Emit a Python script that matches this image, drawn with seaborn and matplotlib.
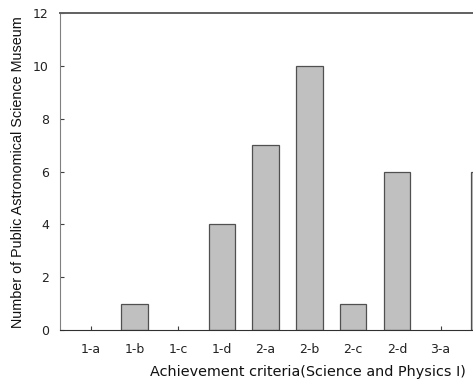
import pandas as pd
import seaborn as sns
import matplotlib.pyplot as plt

# === Data ===
criteria = ['1-a', '1-b', '1-c', '1-d', '2-a', '2-b', '2-c', '2-d', '3-a', '3-b']
museums = [0, 1, 0, 4, 7, 10, 1, 6, 0, 6]
y_ticks = [0, 2, 4, 6, 8, 10, 12]

df = pd.DataFrame({'criteria': criteria, 'museums': museums})

sns.set_style('white')
plt.rcParams['font.family'] = ['DejaVu Sans']

fig = plt.figure(figsize=(4.73, 3.84), dpi=100)
# axes run past the right edge, like the cropped original
ax = fig.add_axes([0.1268, 0.1406, 0.962, 0.8255])

sns.barplot(data=df, x='criteria', y='museums', color='#c0c0c0',
            edgecolor='#505050', linewidth=0.9, width=0.61, saturation=1, ax=ax)

# no outline for empty bars
for p in ax.patches:
    if p.get_height() == 0:
        p.set_linewidth(0)

ax.set_xlim(-0.70, 9.70)
ax.set_ylim(0, 12)
ax.set_yticks(y_ticks)
# last category sits past the crop, so its label is not shown
ax.set_xticks(range(len(criteria) - 1))
ax.set_xticklabels(criteria[:-1])
ax.tick_params(axis='both', direction='in', length=3, width=0.8,
               color='#404040', labelsize=9, labelcolor='#222222',
               bottom=True, left=True)
ax.tick_params(axis='x', pad=9)
ax.tick_params(axis='y', pad=8)

for side in ['top', 'left', 'bottom', 'right']:
    ax.spines[side].set_visible(True)
ax.spines['top'].set_color('#606060')
ax.spines['top'].set_linewidth(1.4)
ax.spines['left'].set_color('#808080')
ax.spines['bottom'].set_color('#303030')
ax.spines['right'].set_color('#606060')

ax.set_xlabel('')
ax.set_ylabel('')
fig.text(308 / 473, 1 - 372 / 384, 'Achievement criteria(Science and Physics I)',
         ha='center', va='center', fontsize=10.4, color='#111111')
fig.text(18 / 473, 1 - 172 / 384, 'Number of Public Astronomical Science Museum',
         ha='center', va='center', rotation=90, fontsize=10.4,
         family=['Liberation Sans', 'DejaVu Sans'], color='#111111')

fig.savefig('out.png', dpi=100)
